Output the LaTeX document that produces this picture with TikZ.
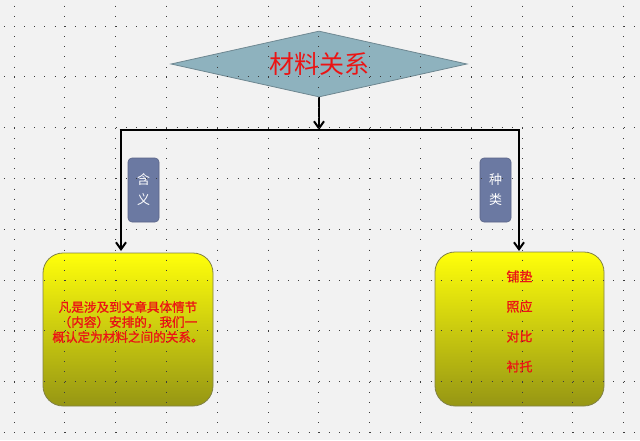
\documentclass[tikz,border=0pt]{standalone}
\usepackage{fontspec}
\newfontfamily\cjk{Noto Sans CJK SC}
\newfontfamily\cjkb[FakeBold=1.2]{Noto Sans CJK SC}
\usetikzlibrary{shapes.geometric,arrows.meta}
\definecolor{bg}{RGB}{242,242,242}
\definecolor{dotc}{RGB}{60,60,60}
\definecolor{diafill}{RGB}{142,178,190}
\definecolor{diadraw}{RGB}{110,135,145}
\definecolor{labfill}{RGB}{107,121,162}
\definecolor{labdraw}{RGB}{90,100,135}
\definecolor{ytop}{RGB}{255,255,10}
\definecolor{ymid}{RGB}{235,235,0}
\definecolor{ybot}{RGB}{150,150,20}
\definecolor{ydraw}{RGB}{130,130,70}
\definecolor{txtred}{RGB}{235,20,20}
\begin{document}
\begin{tikzpicture}[x=1pt,y=-1pt,
  griddot/.style={dotc,line width=1pt,dash pattern=on 1pt off 9.16pt},
  dia/.style={diamond,aspect=4.5,inner sep=0pt,minimum width=296pt,minimum height=66pt,fill=diafill,draw=diadraw,line width=0.8pt,text=txtred,font=\cjk\fontsize{25}{25}\selectfont},
  labbox/.style={rounded corners=4pt,fill=labfill,draw=labdraw,line width=0.6pt,minimum width=31pt,minimum height=64pt,inner sep=0pt,text=white,align=center,font=\cjk\fontsize{13}{20}\selectfont},
  ybox/.style={rounded corners=20pt,top color=ytop,middle color=ymid,bottom color=ybot,draw=ydraw,line width=0.8pt,inner sep=0pt},
  ytext/.style={text=txtred,align=center,inner sep=0pt},
  conn/.style={black,line width=2.6pt},
  arr/.style={conn,-{Straight Barb[length=7pt,width=10pt,line width=2pt]}}]
\useasboundingbox (0,0) rectangle (640,440);
\fill[bg] (0,0) rectangle (640,440);
% nodes
\node[dia] (d) at (319,64) {材料关系};
\node[labbox] (lab1) at (143.5,190) {含\\义};
\node[labbox] (lab2) at (495.5,190) {种\\类};
\node[ybox,minimum width=170pt,minimum height=153pt] (L) at (128,329.5) {};
\node[ybox,minimum width=169pt,minimum height=154pt] (R) at (519.5,329) {};
\node[ytext,font=\cjkb\fontsize{12.6}{15}\selectfont] (Lt) at ([yshift=7.5pt]L.center) {凡是涉及到文章具体情节\\（内容）安排的，我们一\\概认定为材料之间的关系。};
\node[ytext,font=\cjkb\fontsize{13}{30}\selectfont] (Rt) at ([yshift=7.5pt]R.center) {铺垫\\照应\\对比\\衬托};
% connectors
\coordinate (hub) at (319,130);
\coordinate (lc) at (121,130);
\coordinate (rc) at (519,130);
\coordinate (lend) at (121,251);
\coordinate (rend) at (519,251);
\draw[arr] (d.south) -- (hub);
\draw[conn] ([xshift=-1.3pt]lc) -- ([xshift=1.3pt]rc);
\draw[arr] (lc) -- (lend);
\draw[arr] (rc) -- (rend);
% grid overlay
\begin{scope}
\clip (0,0) rectangle (640,440);
\foreach \i in {0,...,12}{
  \draw[griddot] (14+50.8*\i,-24.8) -- (14+50.8*\i,470);
}
\foreach \j in {0,...,8}{
  \draw[griddot] (-36.8,26+50.8*\j) -- (680,26+50.8*\j);
}
\end{scope}
\end{tikzpicture}
\end{document}
